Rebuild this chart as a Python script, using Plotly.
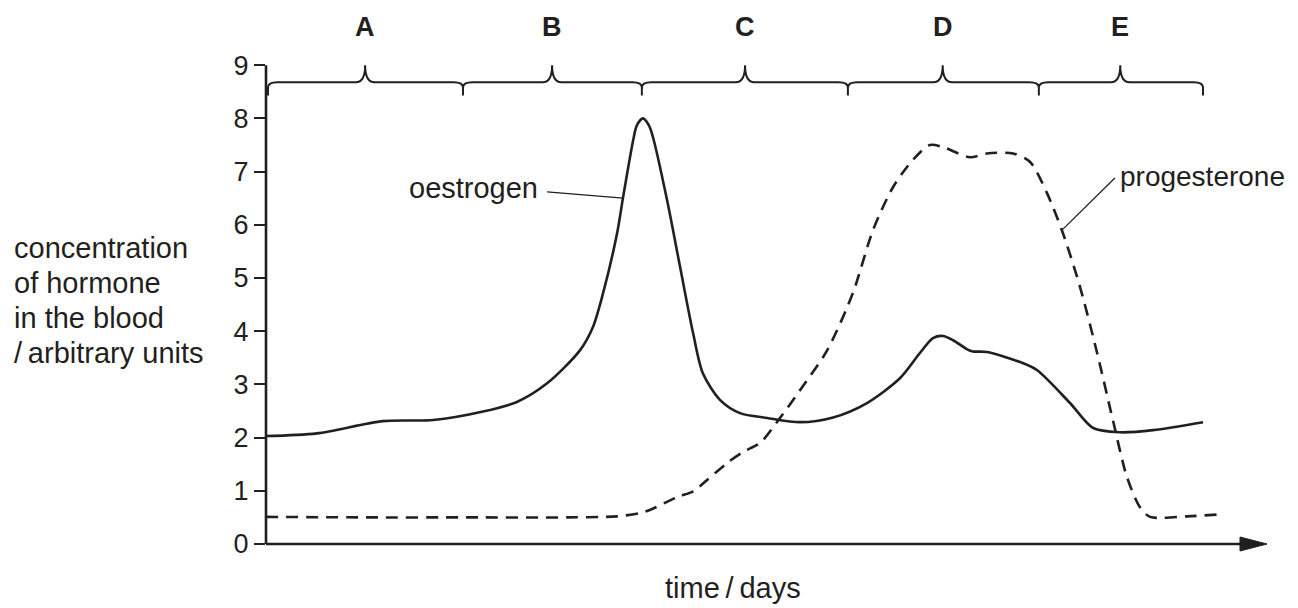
import plotly.graph_objects as go

# ---------------- data (time in days, concentration in arbitrary units) ----------------
oestrogen_day = [0.0, 1.52, 3.49, 4.99, 6.48, 7.49, 8.39, 9.37, 9.76, 10.06, 10.48, 10.66,
                 10.96, 11.07, 11.25, 11.43, 11.55, 11.97, 12.36, 12.75, 13.04, 13.55,
                 14.15, 14.96, 15.94, 16.93, 17.94, 18.93, 19.52, 19.91, 20.21, 20.51,
                 20.93, 21.10, 21.52, 22.51, 23.01, 24.0, 24.69, 25.49, 26.48, 27.97]
oestrogen_val = [2.03, 2.08, 2.31, 2.33, 2.49, 2.67, 3.02, 3.64, 4.08, 4.71, 5.84, 6.52,
                 7.59, 7.87, 8.0, 7.87, 7.65, 6.47, 5.21, 3.96, 3.21, 2.71,
                 2.46, 2.37, 2.29, 2.38, 2.65, 3.12, 3.59, 3.87, 3.91, 3.83,
                 3.66, 3.62, 3.61, 3.42, 3.27, 2.65, 2.18, 2.10, 2.14, 2.29]

progesterone_day = [0.0, 3.0, 6.0, 9.0, 10.48, 11.16, 11.46, 12.27, 12.75, 13.16, 13.76,
                    14.24, 14.75, 15.25, 15.94, 16.75, 17.52, 18.12, 18.72, 19.31, 19.82,
                    20.21, 21.01, 21.52, 22.30, 22.81, 23.31, 23.79, 24.30, 24.81, 25.28,
                    25.70, 26.09, 26.39, 27.49, 28.57]
progesterone_val = [0.51, 0.50, 0.50, 0.50, 0.52, 0.58, 0.64, 0.88, 0.99, 1.20, 1.52,
                    1.73, 1.90, 2.29, 2.89, 3.64, 4.72, 5.90, 6.71, 7.22, 7.50,
                    7.46, 7.27, 7.34, 7.34, 7.18, 6.60, 5.84, 4.83, 3.59, 2.33,
                    1.26, 0.69, 0.51, 0.52, 0.56]

phase_labels = ["A", "B", "C", "D", "E"]
phase_bounds = [0.06, 5.88, 11.22, 17.37, 23.07, 27.97]
phase_centres = [2.96, 8.54, 14.30, 20.20, 25.50]

y_ticks = [0, 1, 2, 3, 4, 5, 6, 7, 8, 9]
y_title_lines = ["concentration", "of hormone", "in the blood", "/\u2009arbitrary units"]
x_title = "time\u2009/\u2009days"

# ---------------- style / layout ----------------
INK = "#231f20"
FONT = "Liberation Sans, Arial, sans-serif"
OFF = 8                     # page body margin offset
W, H = 1298 - OFF, 608 - OFF
ML, MR, MT, MB = 266 - OFF, 28, 0, 64
PW = W - ML - MR
PH = H - MT - MB
PX_PER_DAY = 33.5
PX_PER_UNIT = 53.2
X_RANGE = [0, PW / PX_PER_DAY]
Y_RANGE = [0, PH / PX_PER_UNIT]


def px_x(ref_px):
    return (ref_px - OFF - ML) / PW


def px_y(ref_py):
    return (H - MB - (ref_py - OFF)) / PH


fig = go.Figure()
fig.add_trace(go.Scatter(x=oestrogen_day, y=oestrogen_val, mode="lines",
                         line=dict(color=INK, width=2.6, shape="spline", smoothing=0.8),
                         hoverinfo="skip", showlegend=False))
fig.add_trace(go.Scatter(x=progesterone_day, y=progesterone_val, mode="lines",
                         line=dict(color=INK, width=2.6, shape="spline", smoothing=0.8,
                                   dash="12px,8px"),
                         hoverinfo="skip", showlegend=False))


def brace_path(bounds, centres, h=8.68, top=9.0, bot=8.43, r=0.28, k=0.1):
    b0 = bounds[0]
    p = f"M {b0},{bot} L {b0},{h - k} Q {b0},{h} {b0 + r},{h} "
    for i, c in enumerate(centres):
        b1 = bounds[i + 1]
        p += f"L {c - r},{h} Q {c},{h} {c},{top} Q {c},{h} {c + r},{h} "
        p += f"L {b1 - r},{h} Q {b1},{h} {b1},{h - k} L {b1},{bot} "
        if i < len(centres) - 1:
            p += f"L {b1},{h - k} Q {b1},{h} {b1 + r},{h} "
    return p


shapes = []
shapes.append(dict(type="path", xref="x", yref="y", path=brace_path(phase_bounds, phase_centres),
                   line=dict(color=INK, width=2), fillcolor="rgba(0,0,0,0)"))

# axes drawn as shapes (paper coords, unclipped)
y9 = 9 / Y_RANGE[1]
shapes.append(dict(type="line", xref="paper", yref="paper", x0=0, x1=0, y0=0, y1=y9,
                   line=dict(color=INK, width=2.6)))
tip = px_x(1267)
base = px_x(1240)
hh = 7 / PH
shapes.append(dict(type="line", xref="paper", yref="paper", x0=0, x1=base + 0.004, y0=0, y1=0,
                   line=dict(color=INK, width=2.6)))
shapes.append(dict(type="path", xref="paper", yref="paper",
                   path=f"M {base},{-hh} L {tip},0 L {base},{hh} Z",
                   line=dict(color=INK, width=1), fillcolor=INK))

# leader lines
shapes.append(dict(type="line", xref="x", yref="y", x0=8.39, y0=6.62, x1=10.66, y1=6.50,
                   line=dict(color=INK, width=1.3)))
shapes.append(dict(type="line", xref="x", yref="y", x0=23.76, y0=5.90, x1=25.34, y1=6.88,
                   line=dict(color=INK, width=1.3)))

ann = []
for lab, c in zip(phase_labels, phase_centres):
    ann.append(dict(x=c, y=9.72, xref="x", yref="y", text=f"<b>{lab}</b>", showarrow=False,
                    font=dict(family=FONT, size=27, color=INK), xanchor="center", yanchor="middle"))
ann.append(dict(x=8.18, y=6.69, xref="x", yref="y", text="oestrogen", showarrow=False,
                font=dict(family=FONT, size=29, color=INK), xanchor="right", yanchor="middle"))
ann.append(dict(x=25.42, y=6.90, xref="x", yref="y", text="progesterone", showarrow=False,
                font=dict(family=FONT, size=28, color=INK), xanchor="left", yanchor="middle"))
for i, line in enumerate(y_title_lines):
    ann.append(dict(x=px_x(12), y=px_y(248 + 35 * i), xref="paper", yref="paper",
                    text=line, showarrow=False, font=dict(family=FONT, size=29, color=INK),
                    xanchor="left", yanchor="middle"))
ann.append(dict(x=px_x(733), y=px_y(588), xref="paper", yref="paper",
                text=x_title, showarrow=False, font=dict(family=FONT, size=29, color=INK),
                xanchor="center", yanchor="middle"))

fig.update_layout(
    width=W, height=H,
    margin=dict(l=ML, r=MR, t=MT, b=MB, pad=0),
    paper_bgcolor="white", plot_bgcolor="white",
    shapes=shapes, annotations=ann,
    xaxis=dict(range=X_RANGE, showgrid=False, zeroline=False, showline=False,
               showticklabels=False, ticks=""),
    yaxis=dict(range=Y_RANGE, showgrid=False, zeroline=False, showline=False,
               tickmode="array", tickvals=y_ticks, ticktext=[str(t) for t in y_ticks],
               ticks="outside", ticklen=11, tickwidth=2, tickcolor=INK,
               tickfont=dict(family=FONT, size=27, color=INK)),
    font=dict(family=FONT, color=INK),
)

fig.write_html("out.html")
